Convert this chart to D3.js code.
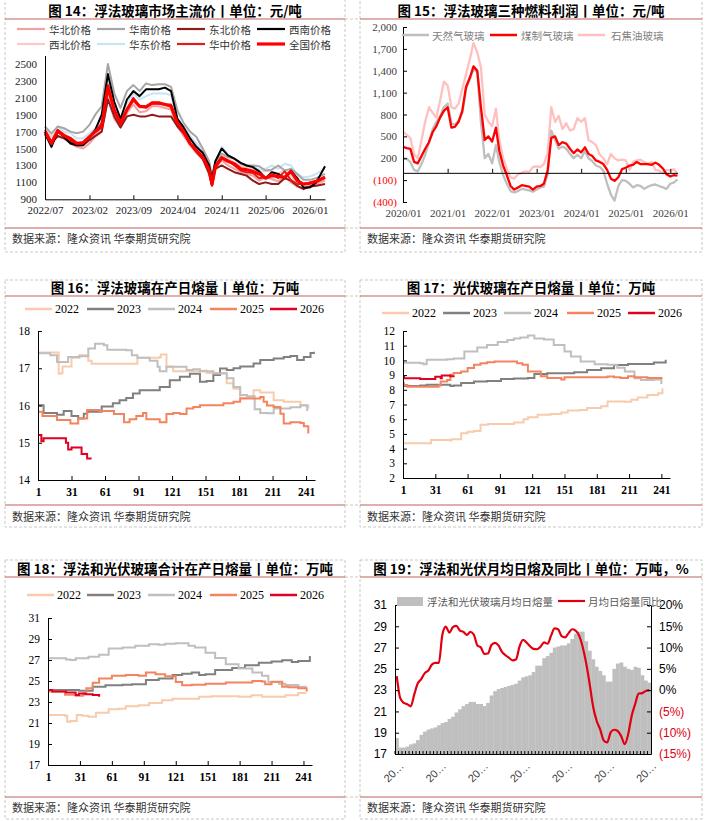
<!DOCTYPE html>
<html><head><meta charset="utf-8">
<script src="https://cdn.jsdelivr.net/npm/d3@7"></script>
<style>body{margin:0;background:#fff}svg{display:block}</style>
</head><body>
<svg id="c" width="710" height="821"></svg>
<script>
// ================= DATA =================
// Panel 14: float glass mainstream prices (元/吨)
const p14Dates = ["2022-07-01","2022-08-01","2022-09-01","2022-10-01","2022-11-01","2022-12-01","2023-01-01","2023-02-01","2023-03-01","2023-04-01","2023-05-01","2023-06-01","2023-07-01","2023-08-01","2023-09-01","2023-10-01","2023-11-01","2023-12-01","2024-01-01","2024-02-01","2024-03-01","2024-04-01","2024-05-01","2024-06-01","2024-07-01","2024-08-01","2024-09-01","2024-09-15","2024-10-01","2024-11-01","2024-12-01","2025-01-01","2025-02-01","2025-03-01","2025-04-01","2025-05-01","2025-06-01","2025-07-01","2025-08-01","2025-09-01","2025-10-01","2025-11-01","2025-12-01","2026-01-01","2026-02-01","2026-03-15"];
const p14North     = [1640,1580,1640,1620,1560,1520,1500,1560,1640,1700,2100,1850,1750,1920,2020,1930,1940,2000,2000,1980,1960,1760,1650,1540,1450,1370,1220,1060,1280,1360,1300,1260,1220,1200,1180,1120,1160,1140,1110,1170,1100,1050,1030,1060,1080,1120];
const p14South     = [1760,1680,1760,1740,1700,1680,1700,1780,1900,2000,2500,2150,1980,2180,2250,2180,2270,2250,2260,2260,2230,1950,1800,1700,1640,1500,1350,1180,1330,1440,1400,1380,1320,1300,1300,1290,1240,1250,1300,1240,1260,1200,1130,1130,1150,1200];
const p14Northeast = [1660,1560,1650,1620,1580,1540,1540,1600,1650,1700,2080,1880,1750,1880,1900,1880,1880,1900,1880,1880,1880,1760,1680,1560,1460,1380,1200,1060,1260,1300,1260,1220,1200,1180,1120,1080,1100,1080,1080,1150,1120,1060,1020,1050,1060,1080];
const p14Southwest = [1680,1520,1700,1640,1560,1540,1540,1640,1720,1900,2380,2050,1850,2080,2180,2120,2200,2200,2200,2220,2180,1850,1750,1620,1520,1450,1300,1140,1350,1500,1420,1380,1330,1300,1280,1230,1150,1220,1200,1150,1240,1150,1040,1040,1100,1290];
const p14Northwest = [1720,1640,1700,1680,1620,1580,1560,1600,1660,1740,2150,1900,1800,1960,2060,1980,2000,2050,2050,2030,2010,1820,1720,1620,1520,1430,1280,1120,1320,1420,1380,1330,1300,1280,1260,1220,1240,1230,1200,1250,1180,1100,1080,1090,1100,1140];
const p14East      = [1760,1640,1760,1700,1680,1620,1620,1680,1740,1850,2320,2000,1850,2030,2150,2080,2120,2150,2150,2150,2130,1850,1750,1650,1560,1480,1320,1150,1330,1520,1430,1380,1320,1300,1290,1250,1260,1300,1260,1320,1300,1200,1160,1170,1200,1260];
const p14Central   = [1720,1580,1720,1660,1600,1560,1560,1640,1700,1800,2250,1960,1780,1960,2100,2000,2000,2030,2030,2020,2020,1800,1700,1560,1470,1400,1240,1070,1300,1400,1360,1300,1240,1220,1210,1150,1160,1200,1150,1230,1130,1080,1080,1100,1120,1160];
const p14National  = [1700,1560,1710,1650,1620,1560,1570,1640,1700,1760,2230,1950,1800,1960,2080,2000,1990,2040,2040,2020,2000,1800,1700,1560,1480,1400,1250,1080,1280,1390,1350,1320,1260,1250,1230,1200,1150,1180,1170,1160,1230,1120,1080,1090,1110,1160];
const p14Names = ["华北价格","华南价格","东北价格","西南价格","西北价格","华东价格","华中价格","全国价格"];
const p14YTicks = [900,1100,1300,1500,1700,1900,2100,2300,2500];
const p14XTicks = ["2022-07-01","2023-02-01","2023-09-01","2024-04-01","2024-11-01","2025-06-01","2026-01-01"];

// Panel 15: profit of three fuels (元/吨), monthly 2020/01 - 2026/03
const p15Start = "2020-01-01";
const p15Gas  = [200,190,150,40,20,120,250,420,600,700,780,900,950,680,660,720,820,1150,1280,1420,1380,700,200,260,130,380,150,-30,-150,-250,-270,-250,-220,-230,-240,-260,-230,-200,-190,-20,580,450,330,360,330,260,200,250,200,300,200,160,100,80,30,-150,-300,-380,-180,-100,-110,-150,-200,-170,-180,-220,-190,-170,-160,-180,-200,-220,-150,-130,-90];
const p15Coal = [355,340,330,150,130,230,330,420,560,640,760,850,900,620,630,700,850,1180,1300,1460,1400,900,450,500,430,620,300,100,-30,-180,-230,-200,-170,-180,-190,-230,-190,-180,-150,30,480,500,380,420,400,330,270,320,280,350,260,230,170,150,120,40,-80,-110,-60,50,70,100,110,150,120,120,120,110,140,110,60,-20,-50,-30,-40];
const p15Coke = [560,520,480,250,200,450,700,900,820,760,1000,1250,1200,900,880,950,1150,1350,1550,1780,1650,1450,800,700,640,880,450,200,50,-60,-80,-20,0,20,10,80,90,80,120,270,900,700,780,600,680,580,600,750,700,750,450,420,380,250,200,120,260,200,170,180,170,40,150,170,180,150,120,150,40,30,-10,40,30,50,-20];
const p15Names = ["天然气玻璃","煤制气玻璃","石焦油玻璃"];
const p15YTicks = [-400,-100,200,500,800,1100,1400,1700,2000];

// Panels 16-18: day index (1-249) and in-production daily melt (万吨)
const years = ["2022","2023","2024","2025","2026"];
const dayTicks = [1,31,61,91,121,151,181,211,241];
// Panel 16 float glass
const p16Day2022=[1,19,19.5,22,23,30,31,38,46,49,89,90,110,111,116,122,146,152,170,176,182,194,200,212,221,236,243];
const p16Val2022=[17.42,17.42,16.85,16.88,17.05,17.05,17.28,17.35,17.2,17.12,17.12,17.28,17.3,17.37,17.05,16.92,16.93,16.87,16.6,16.45,16.2,16.41,16.35,16.14,16.1,16.0,15.92];
const p16Day2023=[1,6,18,24,31,35,37,42,45,57,58,68,74,80,86,92,98,110,119,128,137,146,152,158,164,170,176,182,194,200,212,221,227,233,239,245,248];
const p16Val2023=[16.01,15.8,15.75,15.85,15.72,15.72,15.65,15.78,15.83,15.83,15.97,16.06,16.14,16.2,16.32,16.41,16.41,16.5,16.68,16.77,16.85,16.64,16.66,16.82,16.99,16.95,17.0,17.05,17.13,17.22,17.26,17.3,17.33,17.22,17.3,17.41,17.44];
const p16Day2024=[1,12,18,24,28,38,46,52,60,63,80,85,90,99,101,108,110,116,128,134,140,146,158,164,170,176,182,188,195,200,206,212,221,227,236,242];
const p16Val2024=[17.4,17.35,17.17,17.17,17.3,17.32,17.53,17.66,17.62,17.5,17.48,17.35,17.28,17.28,17.2,17.04,16.92,17.04,17.04,16.95,16.97,16.92,16.86,16.86,16.73,16.5,16.28,16.25,15.9,15.8,15.79,15.92,15.92,15.95,16.01,15.85];
const p16Day2025=[1,5,15,18,27,30,34,37,45,56,68,69,78,83,89,95,98,107,110,116,122,128,134,140,146,164,167,176,182,200,203,206,212,218,221,227,236,239,243];
const p16Val2025=[15.83,15.72,15.72,15.61,15.61,15.52,15.52,15.65,15.88,15.85,15.85,15.77,15.55,15.63,15.72,15.8,15.63,15.63,15.55,15.77,15.8,15.77,15.92,15.96,16.01,16.01,16.06,16.1,16.19,16.23,16.1,16.0,15.96,15.78,15.52,15.55,15.53,15.44,15.25];
const p16Day2026=[1,3,4,6,24,26,28,31,38,40,44,45,49];
const p16Val2026=[15.21,15.21,15.04,15.12,15.12,15.0,14.82,14.87,14.87,14.7,14.7,14.58,14.58];
// Panel 17 PV glass
const p17Day2022=[1,24,27,45,46,55,61,67,73,80,98,104,113,117,126,138,148,154,165,172,185,191,207,213,219,228,238,242];
const p17Val2022=[4.36,4.36,4.59,4.55,4.63,5.04,5.15,5.2,5.63,5.67,5.67,5.78,6.0,6.13,6.3,6.35,6.45,6.6,6.63,6.76,6.88,7.2,7.18,7.33,7.47,7.65,7.77,8.1];
const p17Day2023=[1,17,23,42,45,48,55,67,79,92,104,117,123,135,148,160,172,185,197,210,222,234,245];
const p17Val2023=[8.26,8.3,8.34,8.34,8.26,8.3,8.47,8.57,8.6,8.74,8.77,8.8,9.07,9.12,9.12,9.2,9.35,9.46,9.68,9.75,9.75,9.85,10.05];
const p17Day2024=[1,17,20,23,42,48,58,70,79,89,98,104,110,117,123,132,141,151,157,166,179,191,200,207,216,222,234,241];
const p17Val2024=[9.84,9.8,9.73,10.05,10.08,10.13,10.6,10.87,11.04,11.26,11.38,11.49,11.55,11.7,11.49,11.42,11.04,10.6,10.26,9.92,9.73,9.7,9.5,9.24,8.78,8.67,8.7,8.4];
const p17Day2025=[1,2,5,33,34,36,42,45,48,55,61,67,73,79,86,104,107,112,117,123,129,135,148,151,172,191,197,203,210,216,228,242];
const p17Val2025=[8.44,8.33,8.2,8.2,8.3,8.57,8.67,9.03,9.14,9.25,9.48,9.7,9.8,9.87,9.92,9.92,9.8,9.7,9.25,9.25,8.92,8.8,8.7,8.86,8.86,8.9,8.86,8.8,8.92,8.86,8.8,8.8];
const p17Day2026=[1,2,17,30,31,36,37,45,48];
const p17Val2026=[8.89,8.78,8.74,8.74,8.89,8.78,8.98,8.92,8.98];
// Panel 18 total
const p18Day2022=[1,17,19,22,28,33,39,46,58,67,74,86,96,108,118,130,143,155,168,180,192,202,211,224,236,243];
const p18Val2022=[21.76,21.7,21.12,21.2,21.76,21.7,21.6,21.98,22.3,22.35,22.6,22.7,22.9,23.16,23.3,23.3,23.5,23.55,23.55,23.5,23.65,23.5,23.5,23.65,23.86,23.8];
const p18Day2023=[1,30,43,55,71,80,93,105,118,127,136,143,149,158,174,186,199,211,221,230,236,247];
const p18Val2023=[24.14,24.08,24.46,24.6,24.65,24.7,25.1,25.25,25.57,25.7,25.8,25.57,25.65,26.05,26.25,26.5,26.74,26.85,26.97,26.8,26.9,27.38];
const p18Day2024=[1,18,22,27,39,49,58,71,83,96,105,111,121,133,139,149,158,168,180,193,202,208,218,224,236,243];
const p18Val2024=[27.16,27.05,27.0,27.16,27.3,27.5,28.1,28.2,28.35,28.5,28.45,28.55,28.6,28.35,28.2,27.7,27.2,26.6,26.2,25.8,25.5,24.9,24.75,24.62,24.46,24.3];
const p18Day2025=[1,17,27,34,37,43,49,61,74,86,93,102,111,121,127,136,149,168,193,202,205,211,221,227,236,244];
const p18Val2025=[24.0,23.7,23.6,23.8,24.3,24.84,25.25,25.5,25.57,25.5,25.8,25.65,25.45,24.9,24.6,24.65,24.75,24.85,25.0,24.95,24.7,24.94,24.46,24.4,24.3,24.0];
const p18Day2026=[1,5,18,27,30,36,43,49];
const p18Val2026=[24.14,24.0,23.9,23.67,23.8,23.75,23.67,23.5];

// Panel 19: monthly average daily melt (万吨) and YoY (%), 2020/01 - 2026/01
const p19Melt=[18.5,17.6,17.6,17.7,17.9,18.0,18.3,18.8,19.1,19.3,19.4,19.5,19.7,19.9,20.0,20.3,20.5,20.9,21.2,21.5,21.7,21.9,21.9,21.7,21.7,21.5,21.8,22.5,22.9,23.1,23.2,23.3,23.4,23.5,23.6,23.9,24.2,24.3,24.4,24.7,25.3,25.3,26.0,26.2,26.5,27.0,27.1,27.2,27.2,27.4,27.8,28.3,28.5,28.5,27.6,26.7,25.9,25.2,24.8,24.4,23.8,23.8,25.0,25.5,25.6,25.2,25.0,24.9,25.2,25.1,24.4,23.9,23.7];
const p19Yoy=[3.3,-1.9,-3.0,-3.3,-3.8,-1.0,1.6,2.6,4.0,4.6,6.0,6.4,6.4,13.0,14.9,13.5,14.8,15.1,14.0,13.7,13.0,13.7,13.0,10.5,10.0,8.5,8.6,10.6,11.1,10.5,9.0,8.2,7.6,7.0,7.2,10.2,11.8,11.2,10.3,9.7,9.6,10.2,11.2,10.9,12.8,14.5,14.3,12.7,12.4,13.4,14.3,14.0,12.8,10.2,6.4,1.5,-3.9,-7.2,-9.2,-11.8,-12.3,-9.9,-9.3,-9.6,-10.8,-12.7,-10.3,-6.0,-3.2,-0.8,-0.7,-0.2,0.0];
const p19LeftTicks=[17,19,21,23,25,27,29,31];
const p19RightTicks=[-15,-10,-5,0,5,10,15,20];
const p19Names=["浮法和光伏玻璃月均日熔量","月均日熔量同比"];

const titles = ["图 14：浮法玻璃市场主流价丨单位：元/吨","图 15：浮法玻璃三种燃料利润丨单位：元/吨","图 16：浮法玻璃在产日熔量丨单位：万吨","图 17：光伏玻璃在产日熔量丨单位：万吨","图 18：浮法和光伏玻璃合计在产日熔量丨单位：万吨","图 19：浮法和光伏月均日熔及同比丨单位：万吨，%"];
const sourceText = "数据来源：隆众资讯 华泰期货研究院";

// ================= DRAWING =================
const svg = d3.select("#c");
const CJK = "'Noto Sans CJK SC','Noto Sans',sans-serif";
const SERIF = "'Liberation Serif','DejaVu Serif',serif";
const SANS = "'Liberation Sans','DejaVu Sans',sans-serif";
const parse = d3.timeParse("%Y-%m-%d");

function frame(x0,x1,yTop,yBot,titleY,ruleY,srcRuleY,srcY,title){
  svg.append("rect").attr("x",x0).attr("y",yTop).attr("width",x1-x0).attr("height",yBot-yTop)
    .attr("fill","none").attr("stroke","#c8c8c8").attr("stroke-width",1).attr("stroke-dasharray","3,2");
  svg.append("text").attr("x",(x0+x1)/2).attr("y",titleY).attr("text-anchor","middle").attr("dominant-baseline","central")
    .attr("font-family",CJK).attr("font-weight","bold").attr("font-size",13.5).attr("fill","#000").text(title);
  [ruleY,srcRuleY].forEach(y=>{
    svg.append("line").attr("x1",x0).attr("x2",x1).attr("y1",y).attr("y2",y).attr("stroke","#C0605A").attr("stroke-width",1.2);
  });
  svg.append("text").attr("x",x0+7).attr("y",srcY).attr("dominant-baseline","central")
    .attr("font-family",CJK).attr("font-size",11).attr("fill","#333").text(sourceText);
}
function connector(y){
  svg.append("line").attr("x1",345).attr("x2",360).attr("y1",y).attr("y2",y)
    .attr("stroke","#c8c8c8").attr("stroke-dasharray","3,2");
}
function styleAxis(g,font,size,color,weight){
  g.attr("font-family",font).attr("font-size",size);
  g.selectAll("text").attr("fill",color).attr("font-weight",weight||"normal");
  g.selectAll(".tick line").attr("stroke","#000");
  g.select(".domain").attr("stroke","#000");
}

// ---- frames ----
frame(5,345,-1,252,10,19,228,238,titles[0]);
frame(360,702,-1,252,10,19,228,238,titles[1]);
frame(5,345,280,527,287,296,505,516,titles[2]);
frame(360,702,280,527,287,296,505,516,titles[3]);
frame(5,345,560,819,568,577,797,807,titles[4]);
frame(360,702,560,819,568,577,797,807,titles[5]);
[19,228,296,505,577,797].forEach(connector);

// ---- Panel 14 ----
(function(){
  const dates = p14Dates.map(parse);
  const x = d3.scaleTime().domain([parse("2022-07-01"),parse("2026-03-15")]).range([45,325]);
  const y = d3.scaleLinear().domain([900,2600]).range([199.3,55.5]);
  const series = [p14North,p14South,p14Northeast,p14Southwest,p14Northwest,p14East,p14Central,p14National];
  const colors = ["#F4A0A0","#A6A6A6","#8E1B1B","#000000","#FFC8C8","#C9E3F6","#E01E1E","#FF0000"];
  const widths = [2,2,2,2,2,2,2,3.2];
  const order = [5,4,0,1,2,3,6,7];
  const line = d3.line().x((d,i)=>x(dates[i])).y(d=>y(d));
  order.forEach(k=>{
    svg.append("path").datum(series[k]).attr("d",line).attr("fill","none")
      .attr("stroke",colors[k]).attr("stroke-width",widths[k]).attr("stroke-linejoin","round");
  });
  const gy = svg.append("g").attr("transform","translate(45,0)")
    .call(d3.axisLeft(y).tickValues(p14YTicks).tickSize(0).tickPadding(8).tickFormat(d3.format("d")));
  styleAxis(gy,SERIF,11,"#222");
  const gx = svg.append("g").attr("transform","translate(0,199.3)")
    .call(d3.axisBottom(x).tickValues(p14XTicks.map(parse)).tickSizeInner(-4).tickSizeOuter(0).tickPadding(7).tickFormat(d3.timeFormat("%Y/%m")));
  styleAxis(gx,SERIF,11,"#222");
  // legend
  const lx=[17,97,177,257], ly=[29,44];
  p14Names.forEach((n,k)=>{
    const cx=lx[k%4], cy=ly[Math.floor(k/4)];
    svg.append("line").attr("x1",cx).attr("x2",cx+28).attr("y1",cy).attr("y2",cy)
      .attr("stroke",colors[k]).attr("stroke-width",k===7?3.2:2.2);
    svg.append("text").attr("x",cx+32).attr("y",cy).attr("dominant-baseline","central")
      .attr("font-family",CJK).attr("font-size",10.5).attr("fill","#333").text(n);
  });
})();

// ---- Panel 15 ----
(function(){
  const start = parse(p15Start);
  const months = p15Coal.map((d,i)=>d3.timeMonth.offset(start,i));
  const x = d3.scaleTime().domain([start,months[months.length-1]]).range([403,677.5]);
  const y = d3.scaleLinear().domain([-400,2000]).range([202,27]);
  const line = d3.line().x((d,i)=>x(months[i])).y(d=>y(d));
  const series=[p15Gas,p15Coal,p15Coke];
  const colors=["#BFBFBF","#FF0000","#FFC0C0"];
  [2,0,1].forEach(k=>{
    svg.append("path").datum(series[k]).attr("d",line).attr("fill","none")
      .attr("stroke",colors[k]).attr("stroke-width",2.3).attr("stroke-linejoin","round");
  });
  const fmt = v=> v<0 ? "("+d3.format(",")(-v)+")" : d3.format(",")(v);
  const gy = svg.append("g").attr("transform","translate(403,0)")
    .call(d3.axisLeft(y).tickValues(p15YTicks).tickSizeInner(-4).tickSizeOuter(0).tickPadding(6).tickFormat(fmt));
  styleAxis(gy,SERIF,11,"#404040");
  gy.selectAll(".tick text").attr("fill",d=>d<0?"#FF0000":"#404040");
  const yearTicks = d3.timeYear.range(start,parse("2026-02-01"));
  const gx = svg.append("g").attr("transform",`translate(0,${y(0)})`)
    .call(d3.axisBottom(x).tickValues(yearTicks).tickSizeInner(-4).tickSizeOuter(0).tickFormat(""));
  styleAxis(gx,SERIF,11,"#404040");
  const gl = svg.append("g").attr("transform","translate(0,209)")
    .call(d3.axisBottom(x).tickValues(yearTicks).tickSize(0).tickPadding(0).tickFormat(d3.timeFormat("%Y/%m")));
  styleAxis(gl,SERIF,11,"#404040");
  gl.select(".domain").remove();
  const lx=[402,490,578], tx=[432,521,611];
  p15Names.forEach((n,k)=>{
    svg.append("line").attr("x1",lx[k]).attr("x2",lx[k]+27).attr("y1",35).attr("y2",35)
      .attr("stroke",colors[k]).attr("stroke-width",2.5);
    svg.append("text").attr("x",tx[k]).attr("y",35).attr("dominant-baseline","central")
      .attr("font-family",CJK).attr("font-size",10.5).attr("fill","#7F7F7F").text(n);
  });
})();

// ---- Panels 16-18 (yearly step lines) ----
const yearColors = ["#F8CBAD","#808080","#BFBFBF","#F4845F","#E00022"];
function yearPanel(cfg){
  const x = d3.scaleLinear().domain([1,249]).range([cfg.x0,cfg.x1]);
  const y = d3.scaleLinear().domain(cfg.ydom).range([cfg.yb,cfg.yt]);
  const line = d3.line().x(d=>x(d[0])).y(d=>y(d[1])).curve(d3.curveStepAfter);
  [0,1,2,3,4].forEach(k=>{
    const pts = cfg.days[k].map((d,i)=>[d,cfg.vals[k][i]]);
    svg.append("path").datum(pts).attr("d",line).attr("fill","none")
      .attr("stroke",yearColors[k]).attr("stroke-width",2);
  });
  const gy = svg.append("g").attr("transform",`translate(${cfg.x0},0)`)
    .call(d3.axisLeft(y).tickValues(cfg.yticks).tickSizeInner(-4).tickSizeOuter(0).tickPadding(8).tickFormat(d3.format("d")));
  styleAxis(gy,SERIF,11.5,"#000");
  const gx = svg.append("g").attr("transform",`translate(0,${cfg.yb})`)
    .call(d3.axisBottom(x).tickValues(dayTicks).tickSizeInner(-4).tickSizeOuter(0).tickPadding(8).tickFormat(d3.format("d")));
  styleAxis(gx,SERIF,11.5,"#000","bold");
  years.forEach((yr,k)=>{
    svg.append("line").attr("x1",cfg.lx[k]).attr("x2",cfg.lx[k]+27).attr("y1",cfg.ly).attr("y2",cfg.ly)
      .attr("stroke",yearColors[k]).attr("stroke-width",2.5);
    svg.append("text").attr("x",cfg.lx[k]+30).attr("y",cfg.ly).attr("dominant-baseline","central")
      .attr("font-family",SERIF).attr("font-size",12).attr("fill","#000").text(yr);
  });
}
yearPanel({x0:38,x1:315,yb:480,yt:331,ydom:[14,18],yticks:[14,15,16,17,18],
  days:[p16Day2022,p16Day2023,p16Day2024,p16Day2025,p16Day2026],vals:[p16Val2022,p16Val2023,p16Val2024,p16Val2025,p16Val2026],
  lx:[25,87,148,210,270],ly:309});
yearPanel({x0:403,x1:670,yb:478,yt:331,ydom:[2,12],yticks:[2,3,4,5,6,7,8,9,10,11,12],
  days:[p17Day2022,p17Day2023,p17Day2024,p17Day2025,p17Day2026],vals:[p17Val2022,p17Val2023,p17Val2024,p17Val2025,p17Val2026],
  lx:[382,443,504,567,628],ly:313});
yearPanel({x0:48,x1:312,yb:765,yt:618,ydom:[17,31],yticks:[17,19,21,23,25,27,29,31],
  days:[p18Day2022,p18Day2023,p18Day2024,p18Day2025,p18Day2026],vals:[p18Val2022,p18Val2023,p18Val2024,p18Val2025,p18Val2026],
  lx:[27,87,148,210,270],ly:595});

// ---- Panel 19 ----
(function(){
  const months = d3.timeMonths(parse("2020-01-01"),parse("2026-02-01"));
  const x = d3.scaleBand().domain(months).range([395,651]).paddingInner(0).paddingOuter(0);
  const yl = d3.scaleLinear().domain([17,31]).range([754,605]);
  const yr = d3.scaleLinear().domain([-15,20]).range([754,605]);
  svg.append("g").selectAll("rect").data(p19Melt).join("rect")
    .attr("x",(d,i)=>x(months[i])).attr("width",x.bandwidth()+0.3)
    .attr("y",d=>yl(d)).attr("height",d=>yl(17)-yl(d)).attr("fill","#BFBFBF");
  const line = d3.line().x((d,i)=>x(months[i])+x.bandwidth()/2).y(d=>yr(d)).curve(d3.curveMonotoneX);
  svg.append("path").datum(p19Yoy).attr("d",line).attr("fill","none").attr("stroke","#E00010").attr("stroke-width",2.2);
  const gl = svg.append("g").attr("transform","translate(395,0)")
    .call(d3.axisLeft(yl).tickValues(p19LeftTicks).tickSizeInner(-4).tickSizeOuter(0).tickPadding(8).tickFormat(d3.format("d")));
  styleAxis(gl,SANS,12,"#000");
  const fr = v=> v<0 ? "("+(-v)+"%)" : v+"%";
  const gr = svg.append("g").attr("transform","translate(651,0)")
    .call(d3.axisRight(yr).tickValues(p19RightTicks).tickSizeInner(-4).tickSizeOuter(0).tickPadding(8).tickFormat(fr));
  styleAxis(gr,SANS,12,"#000");
  gr.selectAll(".tick text").attr("fill",d=>d<0?"#E00010":"#000");
  const gx = svg.append("g").attr("transform","translate(0,754)")
    .call(d3.axisBottom(x).tickSizeInner(-3).tickSizeOuter(0).tickFormat(""));
  styleAxis(gx,SANS,11,"#404040");
  gx.selectAll(".tick line").attr("transform",`translate(${-x.bandwidth()/2},0)`);
  const labelMonths = months.filter((m,i)=>i%12===0);
  svg.append("g").selectAll("text").data(labelMonths).join("text")
    .attr("transform",d=>`translate(${x(d)+4},761) rotate(-45)`)
    .attr("text-anchor","end").attr("dominant-baseline","hanging")
    .attr("font-family",SANS).attr("font-size",11).attr("fill","#404040")
    .text(d=>d3.timeFormat("%Y")(d).slice(0,2)+"…");
  // legend
  svg.append("rect").attr("x",397).attr("y",597).attr("width",26).attr("height",9).attr("fill","#BFBFBF");
  svg.append("text").attr("x",427).attr("y",601).attr("dominant-baseline","central")
    .attr("font-family",CJK).attr("font-size",10.5).attr("fill","#595959").text(p19Names[0]);
  svg.append("line").attr("x1",558).attr("x2",585).attr("y1",601).attr("y2",601).attr("stroke","#E00010").attr("stroke-width",2.2);
  svg.append("text").attr("x",588).attr("y",601).attr("dominant-baseline","central")
    .attr("font-family",CJK).attr("font-size",10.5).attr("fill","#595959").text(p19Names[1]);
})();
</script>
</body></html>
